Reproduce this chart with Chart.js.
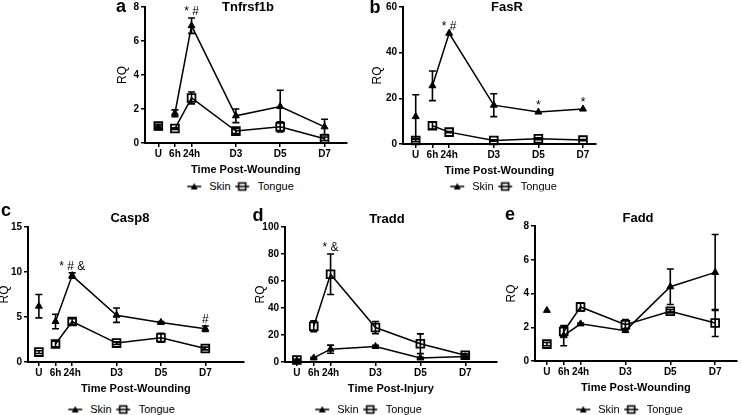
<!DOCTYPE html>
<html>
<head>
<meta charset="utf-8">
<script src="https://cdn.jsdelivr.net/npm/chart.js@4.4.1/dist/chart.umd.min.js"></script>
<style>
  html, body { margin: 0; padding: 0; background: #fff; }
  body { width: 741px; height: 415px; overflow: hidden; position: relative; font-family: "Liberation Sans", Arial, sans-serif; color: #000; }
  canvas.panel { position: absolute; }
  .lbl { position: absolute; transform: translate(-50%, -50%); line-height: 1; white-space: nowrap; }
  .letter { font-weight: bold; font-size: 18px; }
  .title { font-weight: bold; font-size: 13px; }
  .legend { position: absolute; transform: translate(-50%, -50%); display: flex; align-items: center; font-size: 11px; line-height: 1; white-space: nowrap; }
  .legend canvas { margin-right: 8px; }
  .legend span { margin-right: 5px; }
</style>
</head>
<body>
<script>
const timeLabels = ["U", "6h", "24h", "D3", "D5", "D7"];
const timeDays = [-0.5, 0.25, 1, 3, 5, 7];

const tnfSkin = [0.9, 1.75, 6.9, 1.6, 2.15, 0.95];
const tnfSkinErr = [0.1, 0.2, 0.45, 0.4, 0.95, 0.45];
const tnfTongue = [1.0, 0.85, 2.65, 0.7, 0.95, 0.25];
const tnfTongueErr = [0.1, 0.05, 0.35, 0.15, 0.3, 0.1];

const fasSkin = [12, 25.5, 48.5, 17, 14, 15.3];
const fasSkinErr = [9.6, 6.5, 0, 5, 0, 0];
const fasTongue = [1.5, 8, 5.2, 1.5, 2.3, 1.7];
const fasTongueErr = [0.5, 1.5, 0.3, 0.3, 0.4, 0.3];

const caspSkin = [6.2, 4.5, 9.6, 5.2, 4.4, 3.7];
const caspSkinErr = [1.3, 0.8, 0.3, 0.8, 0.1, 0.3];
const caspTongue = [1.1, 2.0, 4.5, 2.1, 2.7, 1.5];
const caspTongueErr = [0.15, 0.3, 0.3, 0.15, 0.5, 0.15];

const traddSkin = [1, 3, 9.5, 11.5, 3, 4];
const traddSkinErr = [0.3, 0.5, 3, 0.8, 0.5, 0.5];
const traddTongue = [1.5, 26.5, 65, 25.5, 13.5, 5];
const traddTongueErr = [0.5, 4, 15, 4.5, 7.3, 1];

const faddSkin = [3.0, 1.5, 2.2, 1.8, 4.4, 5.25];
const faddSkinErr = [0, 0.6, 0.05, 0.1, 1.05, 2.25];
const faddTongue = [1.0, 1.75, 3.2, 2.15, 2.95, 2.25];
const faddTongueErr = [0.1, 0.3, 0.25, 0.3, 0.1, 0.8];

// significance marks: [time index, text]
const tnfMarks = [[2, "* #"]];
const fasMarks = [[2, "* #"], [4, "*"], [5, "*"]];
const caspMarks = [[2, "* # &"], [5, "#"]];
const traddMarks = [[2, "* &"]];
const faddMarks = [];

const FONT = '"Liberation Sans", Arial, sans-serif';
Chart.defaults.font.family = FONT;
Chart.defaults.color = "#000";

const panels = [
  { letter: "a", title: "Tnfrsf1b", xTitle: "Time Post-Wounding", skin: tnfSkin, skinErr: tnfSkinErr, tongue: tnfTongue, tongueErr: tnfTongueErr, marks: tnfMarks,
    yMax: 8, yStep: 2, xMin: -1.1, xMax: 8.0, area: [145, 7, 350, 143], rqGap: 22, letterAt: [121, 6], titleAt: [248, 6], legendAt: [243, 186] },
  { letter: "b", title: "FasR", xTitle: "Time Post-Wounding", skin: fasSkin, skinErr: fasSkinErr, tongue: fasTongue, tongueErr: fasTongueErr, marks: fasMarks,
    yMax: 60, yStep: 20, xMin: -1.07, xMax: 7.57, area: [403, 7, 599, 144], rqGap: 25, letterAt: [375, 7], titleAt: [507, 6], legendAt: [506, 186] },
  { letter: "c", title: "Casp8", xTitle: "Time Post-Wounding", skin: caspSkin, skinErr: caspSkinErr, tongue: caspTongue, tongueErr: caspTongueErr, marks: caspMarks,
    yMax: 15, yStep: 5, xMin: -0.99, xMax: 8.73, area: [28, 227, 247, 362], rqGap: 23, letterAt: [6, 210], titleAt: [130, 217], legendAt: [124, 409] },
  { letter: "d", title: "Tradd", xTitle: "Time Post-Injury", skin: traddSkin, skinErr: traddSkinErr, tongue: traddTongue, tongueErr: traddTongueErr, marks: traddMarks,
    yMax: 100, yStep: 20, xMin: -1.03, xMax: 8.4, area: [285, 227, 500, 362], rqGap: 24, letterAt: [258, 215], titleAt: [387, 218], legendAt: [371, 409] },
  { letter: "e", title: "Fadd", xTitle: "Time Post-Wounding", skin: faddSkin, skinErr: faddSkinErr, tongue: faddTongue, tongueErr: faddTongueErr, marks: faddMarks,
    yMax: 8, yStep: 2, xMin: -1.03, xMax: 7.96, area: [535, 226, 740, 361], rqGap: 23, letterAt: [510, 214], titleAt: [638, 217], legendAt: [632, 409] },
];

const errorBars = {
  id: "errorBars",
  beforeDatasetsDraw(chart) {
    const { ctx } = chart;
    const yScale = chart.scales.y;
    chart.data.datasets.forEach((ds, di) => {
      const meta = chart.getDatasetMeta(di);
      ds.errors.forEach((err, i) => {
        if (!err) return;
        const x = meta.data[i].x;
        const value = ds.data[i].y;
        const top = yScale.getPixelForValue(value + err);
        const bottom = yScale.getPixelForValue(Math.max(value - err, 0));
        ctx.save();
        ctx.strokeStyle = "#000";
        ctx.lineWidth = 1.6;
        ctx.beginPath();
        ctx.moveTo(x, top);
        ctx.lineTo(x, bottom);
        ctx.moveTo(x - 3.5, top);
        ctx.lineTo(x + 3.5, top);
        ctx.moveTo(x - 3.5, bottom);
        ctx.lineTo(x + 3.5, bottom);
        ctx.stroke();
        ctx.restore();
      });
    });
  },
};

function marksPlugin(marks) {
  return {
    id: "marks",
    afterDatasetsDraw(chart) {
      const { ctx } = chart;
      const xScale = chart.scales.x;
      const yScale = chart.scales.y;
      marks.forEach(([index, text]) => {
        const top = Math.max(...chart.data.datasets.map((ds) => ds.data[index].y + (ds.errors[index] || 0)));
        ctx.save();
        ctx.font = `12px ${FONT}`;
        ctx.fillStyle = "#000";
        ctx.textAlign = "center";
        ctx.textBaseline = "alphabetic";
        ctx.fillText(text, xScale.getPixelForValue(timeDays[index]), yScale.getPixelForValue(top) - 3);
        ctx.restore();
      });
    },
  };
}

function points(values) {
  return timeDays.map((x, i) => ({ x, y: values[i] }));
}

// the unwounded point stands alone, no line to 6h
const hideFirst = { borderColor: (ctx) => (ctx.p0DataIndex === 0 ? "rgba(0,0,0,0)" : "#000") };

function legendIcon(shape) {
  const c = document.createElement("canvas");
  c.width = 14;
  c.height = 10;
  const g = c.getContext("2d");
  g.strokeStyle = "#000";
  g.fillStyle = "#000";
  g.lineWidth = 1.5;
  g.beginPath();
  g.moveTo(0, 5);
  g.lineTo(14, 5);
  g.stroke();
  if (shape === "triangle") {
    g.beginPath();
    g.moveTo(7, 1.5);
    g.lineTo(10.5, 8);
    g.lineTo(3.5, 8);
    g.closePath();
    g.fill();
  } else {
    g.lineWidth = 1.6;
    g.strokeRect(3.5, 1.5, 7, 7);
  }
  return c;
}

function addText(cls, text, [x, y]) {
  const el = document.createElement("div");
  el.className = `lbl ${cls}`;
  el.textContent = text;
  el.style.left = `${x}px`;
  el.style.top = `${y}px`;
  document.body.appendChild(el);
}

function addLegend(at) {
  const box = document.createElement("div");
  box.className = "legend";
  box.style.left = `${at[0]}px`;
  box.style.top = `${at[1]}px`;
  [["triangle", "Skin"], ["rect", "Tongue"]].forEach(([shape, label]) => {
    box.appendChild(legendIcon(shape));
    const span = document.createElement("span");
    span.textContent = label;
    box.appendChild(span);
  });
  document.body.appendChild(box);
}

function renderPanel(p) {
  const [l, t, r, b] = p.area;
  const canvas = document.createElement("canvas");
  canvas.className = "panel";
  const w = r - l + 52;
  const h = b - t + 46;
  canvas.width = w;
  canvas.height = h;
  canvas.style.left = `${l - 48}px`;
  canvas.style.top = `${t - 10}px`;
  canvas.style.width = `${w}px`;
  canvas.style.height = `${h}px`;
  document.body.appendChild(canvas);

  const yWidth = p.rqGap + 7.2;
  new Chart(canvas, {
    type: "line",
    data: {
      datasets: [
        { label: "Skin", data: points(p.skin), errors: p.skinErr, borderColor: "#000", backgroundColor: "#000",
          borderWidth: 1.5, pointStyle: "triangle", pointRadius: 4, pointBorderWidth: 1, segment: hideFirst, clip: false },
        { label: "Tongue", data: points(p.tongue), errors: p.tongueErr, borderColor: "#000", backgroundColor: "rgba(0,0,0,0)",
          borderWidth: 1.5, pointStyle: "rect", pointRadius: 5.5, pointBorderWidth: 1.8, segment: hideFirst, clip: false },
      ],
    },
    options: {
      responsive: false,
      animation: false,
      layout: { padding: { left: 48 - yWidth, top: 10, right: 4, bottom: 2 } },
      plugins: { legend: { display: false }, tooltip: { enabled: false } },
      scales: {
        x: {
          type: "linear",
          min: p.xMin,
          max: p.xMax,
          afterBuildTicks: (axis) => { axis.ticks = timeDays.map((value) => ({ value })); },
          afterFit: (axis) => { axis.height = 34; },
          ticks: { callback: (v, i) => timeLabels[i], autoSkip: false, maxRotation: 0, padding: 1, font: { size: 10, weight: "bold" } },
          grid: { drawOnChartArea: false, drawTicks: true, tickLength: 4, color: "#000", lineWidth: 1.5 },
          border: { display: true, color: "#000", width: 2 },
          title: { display: true, text: p.xTitle, padding: 0, font: { size: 11, weight: "bold" } },
        },
        y: {
          min: 0,
          max: p.yMax,
          afterFit: (axis) => { axis.width = yWidth; },
          ticks: { stepSize: p.yStep, padding: 2, font: { size: 10, weight: "bold" } },
          grid: { drawOnChartArea: false, drawTicks: true, tickLength: 4, color: "#000", lineWidth: 1.5 },
          border: { display: true, color: "#000", width: 2 },
          title: { display: true, text: "RQ", padding: 0, font: { size: 12 } },
        },
      },
    },
    plugins: [errorBars, marksPlugin(p.marks)],
  });

  addText("letter", p.letter, p.letterAt);
  addText("title", p.title, p.titleAt);
  addLegend(p.legendAt);
}

panels.forEach(renderPanel);
</script>
</body>
</html>
